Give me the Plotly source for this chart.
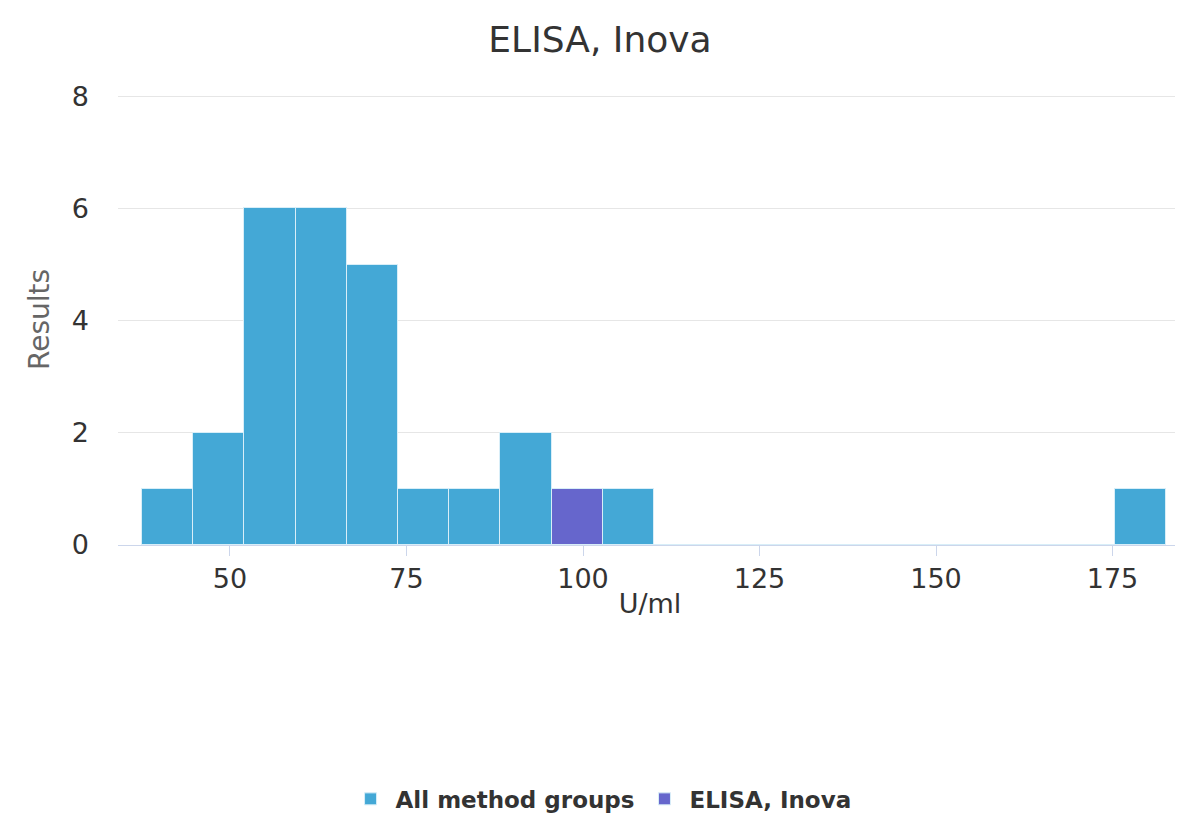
import plotly.graph_objects as go

# Histogram bins (U/ml): bin centres, shared bin width
bin_centers = [41.18, 48.43, 55.68, 62.93, 70.18, 77.43, 84.68, 91.93, 99.18, 106.43,
               113.68, 120.93, 128.18, 135.43, 142.68, 149.93, 157.18, 164.43, 171.68, 178.93]
bin_width = 7.25
all_groups_counts = [1, 2, 6, 6, 5, 1, 1, 2, 0, 1, 0, 0, 0, 0, 0, 0, 0, 0, 0, 1]
elisa_counts = [0, 0, 0, 0, 0, 0, 0, 0, 1, 0, 0, 0, 0, 0, 0, 0, 0, 0, 0, 0]
x_ticks = [50, 75, 100, 125, 150, 175]
y_ticks = [0, 2, 4, 6, 8]

FONT = "DejaVu Sans"
W, H = 1175, 807  # page body has an 8px margin

fig = go.Figure()
fig.add_trace(go.Bar(
    x=bin_centers, y=all_groups_counts, width=[bin_width] * len(bin_centers),
    name="All method groups", marker=dict(color="#44a8d6", line=dict(color="#d8eef8", width=1)),
))
fig.add_trace(go.Bar(
    x=bin_centers, y=elisa_counts, width=[bin_width] * len(bin_centers),
    name="ELISA, Inova", marker=dict(color="#6666cc", line=dict(color="#d8eef8", width=1)),
))

fig.update_layout(
    width=W, height=H,
    barmode="stack",
    paper_bgcolor="white", plot_bgcolor="white",
    margin=dict(l=110, r=1, t=86, b=270, autoexpand=False),
    font=dict(family=FONT, color="#333333"),
    title=dict(text="ELISA, Inova", x=(600 - 8) / W, xanchor="center", y=1 - 31 / H, yanchor="middle",
               font=dict(size=36, color="#333333", family=FONT), automargin=False),
    legend=dict(orientation="h", x=0.454, xanchor="center", y=-0.563, yanchor="middle",
                font=dict(size=23, color="#333333", family=FONT, weight="bold"),
                itemwidth=40, traceorder="normal"),
    bargap=0,
    showlegend=True,
)
fig.update_xaxes(
    range=[34.14, 184.84], tickvals=x_ticks, ticktext=[str(t) for t in x_ticks],
    showgrid=False, showline=True, linecolor="#ccd6eb", linewidth=1,
    ticks="outside", ticklen=10, tickcolor="#ccd6eb",
    tickfont=dict(size=27, color="#333333"),
    title=dict(text="U/ml", font=dict(size=27, color="#333333"), standoff=0),
    zeroline=False, automargin=False,
)
fig.update_yaxes(
    range=[0, 8.04], tickvals=y_ticks, showgrid=True, gridcolor="#e6e6e6", gridwidth=1,
    tickfont=dict(size=27, color="#333333"), ticklabelstandoff=28,
    title=dict(text="Results", font=dict(size=28, color="#666666"), standoff=14),
    zeroline=False, showline=False, automargin=False,
)
fig.write_html("out.html")
